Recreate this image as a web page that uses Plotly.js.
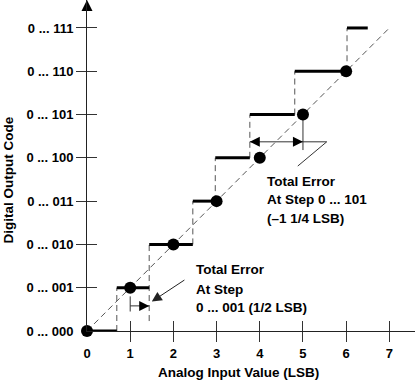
<!DOCTYPE html>
<html><head><meta charset="utf-8">
<script src="https://cdn.plot.ly/plotly-3.0.1.min.js"></script>
<style>html,body{margin:0;padding:0;background:#fff;}#chart{width:418px;height:381px;}</style>
</head><body><div id="chart"></div>
<script>
// ---- data ----
const codes = [0, 1, 2, 3, 4, 5, 6, 7];
const codeLabels = ['0 ... 000', '0 ... 001', '0 ... 010', '0 ... 011', '0 ... 100', '0 ... 101', '0 ... 110', '0 ... 111'];
const xTickVals = [0, 1, 2, 3, 4, 5, 6, 7];
const xTickLabels = ['0', '1', '2', '3', '4', '5', '6', '7'];
const tickMarkVals = [1, 2, 3, 4, 5, 6, 7];
const codeStart = [0, 0.69, 1.44, 2.45, 2.97, 3.77, 4.81, 6.02];
const lastCodeEnd = 6.50;
const riserBottom = [0, 0.23, 2, 3, 4, 5, 6];   // lower end of the dashed riser into codes 1..7
const idealX = [0, 1, 2, 3, 4, 5, 6];
const idealY = [0, 1, 2, 3, 4, 5, 6];
const idealLineX = [0, 7];
const idealLineY = [0, 7];
// error at step 0...001
const err1Y = 0.58, err1From = 1, err1To = 1.44, err1TickY = [0.45, 0.80];
const err1ArrowHead = [1.50, 0.68], err1ArrowTail = [2.29, 1.20];
// error at step 0...101
const err5Y = 4.37, err5From = 3.77, err5To = 5.0, err5LeaderX = 5.55;
const err5Diag = [4.88, 3.81], err5TickY = [5, 4.18];
const text1 = ['Total Error', 'At Step', '0 ... 001 (1/2 LSB)'];
const text1X = 2.48, text1Y = [1.42, 0.97, 0.54];
const text5 = ['Total Error', 'At Step 0 ... 101', '(\u20131 1/4 LSB)'];
const text5X = 4.12, text5Y = [3.46, 3.04, 2.59];
const xTitle = 'Analog Input Value (LSB)';
const yTitle = 'Digital Output Code';
const xMax = 7.594, yMax = 7.646;

// ---- build segments ----
const stepX = [], stepY = [];
codes.forEach((k, i) => {
  const end = i < codes.length - 1 ? codeStart[i + 1] : lastCodeEnd;
  stepX.push(codeStart[i], end, null); stepY.push(k, k, null);
});
const riserX = [], riserY = [];
for (let i = 1; i < codes.length; i++) {
  riserX.push(codeStart[i], codeStart[i], null);
  riserY.push(riserBottom[i - 1], codes[i], null);
}
const thinX = [err1From, err1From, null, err1From, err1To, null,
               err5From, err5LeaderX, err5Diag[0], null, err5To, err5To, null];
const thinY = [err1TickY[0], err1TickY[1], null, err1Y, err1Y, null,
               err5Y, err5Y, err5Diag[1], null, err5TickY[0], err5TickY[1], null];

const DASH = '6px,4px';
const traces = [
  {x: idealLineX, y: idealLineY, mode: 'lines', line: {color: '#555', width: 1, dash: DASH}, hoverinfo: 'skip'},
  {x: riserX, y: riserY, mode: 'lines', line: {color: '#555', width: 1, dash: DASH}, hoverinfo: 'skip'},
  {x: stepX, y: stepY, mode: 'lines', line: {color: '#000', width: 3}, hoverinfo: 'skip'},
  {x: thinX, y: thinY, mode: 'lines', line: {color: '#333', width: 1}, hoverinfo: 'skip'},
  {x: idealX, y: idealY, mode: 'markers', marker: {color: '#000', size: 12}, cliponaxis: false},
  {x: [err1To, err5To], y: [err1Y, err5Y], mode: 'markers', cliponaxis: false,
   marker: {symbol: 'arrow-right', size: 10, color: '#000', line: {width: 0}}},
  {x: [err5From], y: [err5Y], mode: 'markers', cliponaxis: false,
   marker: {symbol: 'arrow-left', size: 10, color: '#000', line: {width: 0}}},
  {x: [0], y: [yMax], mode: 'markers', cliponaxis: false,
   marker: {symbol: 'arrow-up', size: 11, color: '#000', line: {width: 0}}},
  {x: [7.63], y: [0], mode: 'markers', cliponaxis: false,
   marker: {symbol: 'arrow-right', size: 11, color: '#000', line: {width: 0}}},
  // carriers for the tick-mark axes
  {x: [], y: [], xaxis: 'x2', yaxis: 'y', mode: 'markers'},
  {x: [], y: [], xaxis: 'x3', yaxis: 'y', mode: 'markers'},
  {x: [], y: [], xaxis: 'x', yaxis: 'y2', mode: 'markers'},
  {x: [], y: [], xaxis: 'x', yaxis: 'y3', mode: 'markers'}
];

const FONT = '"Liberation Sans", Arial, Helvetica, sans-serif';
const annotations = [];
text1.forEach((t, i) => annotations.push({x: text1X, y: text1Y[i], xref: 'x', yref: 'y', text: t,
  showarrow: false, xanchor: 'left', yanchor: 'middle', font: {family: FONT, size: 13.5, weight: 'bold', color: '#000'}}));
text5.forEach((t, i) => annotations.push({x: text5X, y: text5Y[i], xref: 'x', yref: 'y', text: t,
  showarrow: false, xanchor: 'left', yanchor: 'middle', font: {family: FONT, size: 13.5, weight: 'bold', color: '#000'}}));
annotations.push({x: err1ArrowHead[0], y: err1ArrowHead[1], ax: err1ArrowTail[0], ay: err1ArrowTail[1],
  xref: 'x', yref: 'y', axref: 'x', ayref: 'y', text: '', showarrow: true,
  arrowhead: 2, arrowsize: 2, arrowwidth: 1, arrowcolor: '#222', standoff: 0});
// axis titles
annotations.push({x: 3.5, xref: 'x', y: -0.124, yref: 'paper', text: xTitle, showarrow: false,
  xanchor: 'center', yanchor: 'middle', font: {family: FONT, size: 13.5, weight: 'bold', color: '#000'}});
annotations.push({x: -0.238, xref: 'paper', y: 3.5, yref: 'y', text: yTitle, showarrow: false, textangle: -90,
  xanchor: 'center', yanchor: 'middle', font: {family: FONT, size: 13.5, weight: 'bold', color: '#000'}});

const tickAx = (extra) => Object.assign({showgrid: false, zeroline: false, showline: false, showticklabels: false,
  tickmode: 'array', tickvals: tickMarkVals, ticklen: 10, tickwidth: 1, tickcolor: '#333', fixedrange: true}, extra);

const layout = {
  width: 418, height: 381,
  margin: {l: 87, r: 3, t: 0, b: 50, pad: 0},
  paper_bgcolor: '#fff', plot_bgcolor: '#fff',
  showlegend: false,
  font: {family: FONT, size: 13, color: '#000', weight: 'bold'},
  xaxis: {range: [0, xMax], tickmode: 'array', tickvals: xTickVals, ticktext: xTickLabels, ticks: '',
    ticklabelstandoff: 10, showline: true, linecolor: '#222', linewidth: 1, showgrid: false, zeroline: false,
    fixedrange: true, tickfont: {family: FONT, size: 13, weight: 'bold', color: '#000'}},
  yaxis: {range: [0, yMax], tickmode: 'array', tickvals: codes, ticktext: codeLabels, ticks: '',
    ticklabelstandoff: 10, showline: true, linecolor: '#222', linewidth: 1, showgrid: false, zeroline: false,
    fixedrange: true, tickfont: {family: FONT, size: 13, weight: 'bold', color: '#000'}},
  xaxis2: tickAx({range: [0, xMax], overlaying: 'x', anchor: 'y', side: 'bottom', ticks: 'outside'}),
  xaxis3: tickAx({range: [0, xMax], overlaying: 'x', anchor: 'y', side: 'bottom', ticks: 'inside'}),
  yaxis2: tickAx({range: [0, yMax], overlaying: 'y', anchor: 'x', side: 'left', ticks: 'outside'}),
  yaxis3: tickAx({range: [0, yMax], overlaying: 'y', anchor: 'x', side: 'left', ticks: 'inside'}),
  annotations: annotations
};

Plotly.newPlot('chart', traces, layout, {displayModeBar: false, staticPlot: true});
</script></body></html>
